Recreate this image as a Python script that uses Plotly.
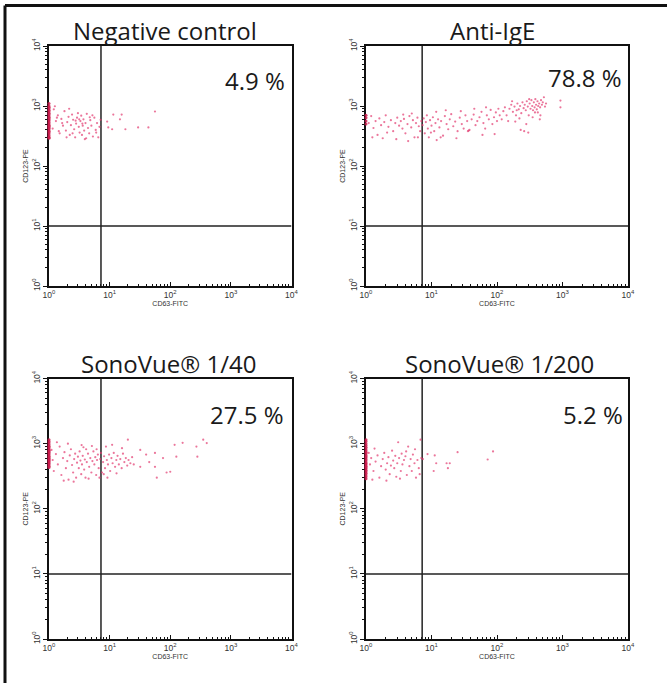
import plotly.graph_objects as go

# ---------------- data ----------------
TITLES = ["Negative control", "Anti-IgE", "SonoVue® 1/40", "SonoVue® 1/200"]
PERCENTS = ["4.9 %", "78.8 %", "27.5 %", "5.2 %"]
X_GATE = 7.2
Y_GATE = 10
TICK_VALS = [1, 10, 100, 1000, 10000]
TICK_TEXT = ["10<sup>0</sup>", "10<sup>1</sup>", "10<sup>2</sup>", "10<sup>3</sup>", "10<sup>4</sup>"]
X_LABEL = "CD63-FITC"
Y_LABEL = "CD123-PE"

# events piled on the left axis (CD63 = 1)
neg_axis_y = [1100, 1000, 950, 900, 850, 800, 760, 720, 680, 650, 620, 590, 560, 530,
              500, 480, 460, 440, 420, 400, 380, 360, 340, 320, 300, 290]
neg_pts = [(1.2, 880), (1.3, 560), (1.15, 420), (1.4, 700), (1.5, 350), (1.6, 610), (1.7, 470),
           (1.8, 820), (1.9, 390), (2.0, 540), (2.1, 660), (2.2, 330), (2.3, 480), (2.4, 720),
           (2.5, 590), (2.6, 410), (2.7, 300), (2.8, 510), (2.9, 640), (3.0, 760), (3.1, 450),
           (3.2, 360), (3.3, 560), (3.4, 690), (3.5, 330), (3.6, 470), (3.7, 600), (3.8, 390),
           (3.9, 280), (4.0, 520), (4.2, 740), (4.4, 430), (4.6, 350), (4.8, 580), (5.0, 470),
           (5.3, 310), (5.6, 640), (5.9, 400), (6.2, 520), (6.5, 300), (6.8, 450), (7.1, 590),
           (1.25, 990), (1.45, 380), (1.65, 520), (2.15, 900), (2.45, 350), (3.15, 600),
           (3.55, 510), (4.1, 290), (5.2, 700), (6.0, 360), (1.35, 640), (1.95, 300),
           (2.75, 570), (4.7, 650), (9.5, 440), (11, 410), (9.1, 550), (11.5, 720), (14.8, 600),
           (15.8, 720), (18.2, 410), (29.5, 440), (43.6, 440), (56, 810)]

ige_axis_y = [700, 640, 560, 500]
ige_pts = [(1.1, 520), (1.2, 680), (1.3, 430), (1.4, 560), (1.5, 330), (1.6, 620),
           (1.7, 480), (1.8, 290), (1.9, 540), (2.0, 700), (2.2, 450), (2.4, 580), (2.6, 380),
           (2.8, 520), (3.0, 640), (3.2, 470), (3.4, 560), (3.6, 420), (3.8, 610), (4.0, 350),
           (4.3, 500), (4.6, 680), (4.9, 440), (5.2, 580), (5.5, 300), (5.8, 520), (6.1, 640),
           (6.4, 460), (6.7, 380), (7.0, 560), (1.25, 300), (2.1, 360), (2.9, 280), (3.7, 720),
           (4.4, 260), (5.0, 750), (6.2, 300),
           (7.3, 480), (7.6, 620), (7.9, 350), (8.2, 540), (8.5, 700), (8.8, 420), (9.1, 300),
           (9.5, 580), (10, 470), (10.5, 650), (11, 380), (11.5, 520), (12, 270), (12.6, 600),
           (13.2, 440), (14, 560), (15, 320), (16, 680), (17, 500), (18, 410), (19, 600),
           (20, 730), (21.5, 460), (23, 550), (25, 380), (27, 640), (29, 500), (31, 420),
           (33, 700), (35, 560), (38, 400), (41, 600), (44, 720), (47, 480), (50, 560), (54, 650),
           (58, 800), (62, 520), (66, 420), (70, 700), (75, 600), (80, 860), (85, 500), (90, 650),
           (96, 780), (100, 560), (105, 900), (110, 700), (118, 600), (125, 820), (132, 950),
           (140, 700), (148, 560), (9.8, 360), (13.8, 300), (24, 290), (36, 380), (37, 390),
           (60, 330), (92, 340), (11.8, 800), (16.5, 850), (28, 820), (45, 900), (68, 950),
           (155, 900), (165, 1050), (175, 800), (185, 980), (195, 700), (205, 1100), (215, 880),
           (225, 1000), (235, 760), (245, 1150), (255, 920), (265, 1050), (275, 850), (285, 1200),
           (295, 980), (305, 700), (315, 1100), (325, 900), (335, 1250), (345, 1000), (355, 850),
           (365, 1150), (375, 950), (385, 1300), (395, 1050), (405, 880), (415, 1200), (425, 1000),
           (440, 1100), (455, 950), (470, 1250), (485, 1050), (500, 1150), (520, 1400), (540, 980),
           (560, 1100), (230, 400), (260, 380), (300, 360), (450, 600), (460, 700), (190, 550),
           (220, 620), (350, 650), (280, 500), (930, 1230), (930, 950), (420, 780), (170, 1200),
           (200, 850), (310, 1300), (380, 780)]

s40_axis_y = [1150, 1080, 1020, 960, 910, 870, 830, 790, 760, 730, 700, 670, 640, 610, 590,
              570, 550, 530, 510, 490, 470, 450, 430]
s40_pts = [(1.1, 800), (1.15, 560), (1.2, 380), (1.3, 690), (1.4, 480), (1.5, 900), (1.6, 330),
           (1.7, 600), (1.8, 740), (1.9, 420), (2.0, 540), (2.1, 280), (2.2, 660), (2.3, 820),
           (2.4, 470), (2.5, 360), (2.6, 580), (2.7, 700), (2.8, 300), (2.9, 510), (3.0, 630),
           (3.1, 420), (3.2, 760), (3.3, 550), (3.4, 340), (3.5, 480), (3.6, 650), (3.7, 880),
           (3.8, 400), (3.9, 570), (4.0, 300), (4.2, 520), (4.4, 700), (4.6, 440), (4.8, 600),
           (5.0, 360), (5.2, 540), (5.4, 760), (5.6, 480), (5.8, 620), (6.0, 330), (6.2, 560),
           (6.4, 680), (6.6, 420), (6.8, 300), (7.0, 580), (1.35, 1050), (2.05, 1000),
           (2.55, 260), (3.45, 950), (4.5, 290), (5.1, 920), (6.1, 820), (1.75, 270), (4.1, 820),
           (7.2, 720), (7.5, 360), (7.8, 520), (8.1, 640), (8.4, 420), (8.7, 900), (9.0, 560),
           (9.4, 480), (9.8, 680), (10.2, 380), (10.7, 600), (11.2, 500), (11.7, 720), (12.3, 440),
           (12.9, 560), (13.5, 650), (14.2, 480), (15, 580), (15.8, 420), (16.6, 700), (17.5, 520),
           (18.5, 600), (19.5, 460), (20.5, 560), (22, 500), (23.5, 620), (25, 480), (8.0, 340),
           (9.2, 300), (11.0, 960), (13.0, 350), (16.0, 850),
           (20, 1150), (32, 800), (40, 680), (32, 440), (56, 720), (76, 600), (87, 360), (100, 370),
           (56, 440), (60, 300), (118, 960), (160, 1030), (270, 900), (350, 1150), (400, 1020),
           (280, 630), (126, 630), (45, 520)]

s200_axis_y = [1150, 1080, 1000, 940, 880, 830, 780, 740, 700, 660, 630, 600, 570, 540, 510,
               490, 470, 450, 430, 410, 390, 370, 350, 330, 310, 290]
s200_pts = [(1.1, 720), (1.15, 480), (1.2, 600), (1.3, 380), (1.35, 840), (1.4, 530), (1.5, 660),
            (1.6, 300), (1.7, 450), (1.8, 580), (1.9, 720), (2.0, 400), (2.1, 500), (2.2, 620),
            (2.3, 340), (2.4, 460), (2.5, 780), (2.6, 550), (2.7, 420), (2.8, 650), (2.9, 310),
            (3.0, 500), (3.1, 1050), (3.2, 600), (3.4, 380), (3.5, 700), (3.6, 480), (3.8, 560),
            (4.0, 640), (4.2, 330), (4.4, 900), (4.6, 450), (4.8, 580), (5.0, 380), (5.2, 680),
            (5.5, 500), (5.8, 300), (6.1, 560), (6.4, 420), (6.8, 1150), (7.0, 600), (1.25, 280),
            (2.05, 270), (3.3, 290), (4.1, 760), (5.6, 820), (6.6, 340),
            (8.7, 690), (11.2, 660), (11.8, 500), (17, 500), (19, 500), (17.8, 420), (25, 740),
            (72, 570), (87, 760), (10.8, 380), (7.4, 580)]

# ---------------- layout helpers ----------------
W, H = 667, 683
# plot boxes in pixels: (left, right, top, bottom)
BOXES = [(49, 291.5, 46, 286), (366, 628, 46, 286),
         (49, 291.5, 378.5, 639), (366, 628, 378.5, 639)]
TITLE_POS = [(165, 31), (493, 31), (168, 363), (500, 363)]
PCT_POS = [(287, 80), (624, 78), (286, 414), (625, 414)]

panels = [(neg_axis_y, neg_pts), (ige_axis_y, ige_pts), (s40_axis_y, s40_pts),
          (s200_axis_y, s200_pts)]

fig = go.Figure()
layout = dict(width=W, height=H, margin=dict(l=0, r=0, t=0, b=0),
              paper_bgcolor="white", plot_bgcolor="white", showlegend=False,
              font=dict(family="Liberation Sans, Arial", color="#222"))
annotations = []
shapes = []

for i, (axis_y, pts) in enumerate(panels):
    n = i + 1
    xa = "x" if n == 1 else f"x{n}"
    ya = "y" if n == 1 else f"y{n}"
    l, r, t, b = BOXES[i]
    axis_common = dict(type="log", range=[0, 4], tickvals=TICK_VALS, ticktext=TICK_TEXT,
                       showgrid=False, zeroline=False, showline=True, mirror=True,
                       linecolor="#111", linewidth=1.5, tickcolor="#111", ticklen=4,
                       tickfont=dict(size=8.5, family="Liberation Sans, Arial", color="#333"),
                       automargin=False, fixedrange=True, layer="below traces")
    layout["xaxis" if n == 1 else f"xaxis{n}"] = dict(
        axis_common, domain=[l / W, r / W], anchor=ya, ticks="inside",
        minor=dict(ticks="inside", ticklen=2, tickcolor="#111", dtick="D1"),
        title=dict(text=X_LABEL, font=dict(size=7, color="#333"), standoff=1))
    layout["yaxis" if n == 1 else f"yaxis{n}"] = dict(
        axis_common, domain=[1 - b / H, 1 - t / H], anchor=xa, ticks="outside",
        tickangle=-90,
        minor=dict(ticks="outside", ticklen=2, tickcolor="#111", dtick="D1"),
        title=dict(text=Y_LABEL, font=dict(size=7, color="#333"), standoff=2))

    # quadrant gates
    fig.add_trace(go.Scatter(x=[X_GATE, X_GATE], y=[1, 10000], mode="lines", xaxis=xa, yaxis=ya,
                             line=dict(color="#222", width=1.5), hoverinfo="skip"))
    fig.add_trace(go.Scatter(x=[1, 10000], y=[Y_GATE, Y_GATE], mode="lines", xaxis=xa, yaxis=ya,
                             line=dict(color="#222", width=1.5), hoverinfo="skip"))
    # events
    fig.add_trace(go.Scatter(x=[p[0] for p in pts], y=[p[1] for p in pts], mode="markers",
                             xaxis=xa, yaxis=ya, cliponaxis=False,
                             marker=dict(size=2.2, color="rgb(226,60,112)", opacity=0.7,
                                         line=dict(width=0))))
    if axis_y:
        fig.add_trace(go.Scatter(x=[1.0] * len(axis_y), y=axis_y, mode="markers",
                                 xaxis=xa, yaxis=ya, cliponaxis=False,
                                 marker=dict(size=3, color="rgb(205,25,75)", opacity=0.85,
                                             line=dict(width=0))))

    tx, ty = TITLE_POS[i]
    annotations.append(dict(text=TITLES[i], xref="paper", yref="paper", x=tx / W, y=1 - ty / H,
                            xanchor="center", yanchor="middle", showarrow=False,
                            font=dict(family="Open Sans", size=24, color="#1a1a1a")))
    px, py = PCT_POS[i]
    annotations.append(dict(text=PERCENTS[i], xref="paper", yref="paper", x=px / W, y=1 - py / H,
                            xanchor="right", yanchor="middle", showarrow=False,
                            font=dict(family="Open Sans", size=24, color="#1a1a1a")))

# outer frame (top and left edges visible)
shapes.append(dict(type="line", xref="paper", yref="paper", x0=5 / W, x1=1.01, y0=1 - 5.5 / H,
                   y1=1 - 5.5 / H, line=dict(color="#111", width=3)))
shapes.append(dict(type="line", xref="paper", yref="paper", x0=5 / W, x1=5 / W, y0=-0.01,
                   y1=1 - 5.5 / H, line=dict(color="#111", width=3)))

layout["annotations"] = annotations
layout["shapes"] = shapes
fig.update_layout(**layout)
fig.write_html("out.html", config={"displayModeBar": False},
               post_script="document.body.style.margin='0';document.body.style.overflow='hidden';")
